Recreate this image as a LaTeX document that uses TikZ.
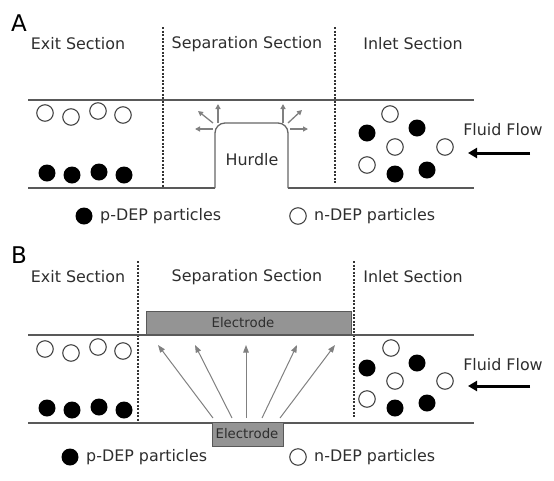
\documentclass[tikz,border=0pt]{standalone}
\usepackage{fontspec}
\setmainfont{DejaVu Sans}
\usetikzlibrary{arrows.meta}
\tikzset{
  lbl/.style={font=\fontsize{15.9}{18}\selectfont, inner sep=0pt, text=black!82},
  panel/.style={font=\fontsize{23}{26}\selectfont, inner sep=0pt},
  elbl/.style={font=\fontsize{13.3}{15}\selectfont, inner sep=0pt, text=black!82},
  wall/.style={draw=black!65, line width=1.2pt},
  hurdlewall/.style={draw=black!60, line width=1.3pt, rounded corners=10pt},
  sepline/.style={draw=black!80, line width=1.2pt, dash pattern=on 2pt off 1.5pt},
  pout/.style={circle, draw=black!72, line width=1.1pt, minimum size=16.5pt, inner sep=0pt},
  pin/.style={circle, fill=black, minimum size=17pt, inner sep=0pt},
  smallarr/.style={draw=black!50, line width=1.3pt, -{Triangle[length=5pt,width=5pt]}},
  fieldarr/.style={draw=black!50, line width=1pt, -{Triangle[length=7.5pt,width=5.5pt]}},
  flowarr/.style={draw=black, line width=3pt, -{Triangle[length=9pt,width=10pt]}},
  electrode/.style={draw=black!65, fill=black!42, line width=1pt, inner sep=0pt},
}
\begin{document}
\begin{tikzpicture}[x=1pt,y=-1pt]
\useasboundingbox (0,0) rectangle (554,480);

%% ===================== Panel A =====================
\node[panel] (labA) at (19,23) {A};
\node[lbl] (exitA) at (78,44) {Exit Section};
\node[lbl] (sepA) at (247,44) {Separation Section};
\node[lbl] (inA) at (413,44) {Inlet Section};

\coordinate (dA1t) at (163,27); \coordinate (dA1b) at (163,187);
\coordinate (dA2t) at (335,27); \coordinate (dA2b) at (335,184);
\draw[sepline] (dA1t) -- (dA1b);
\draw[sepline] (dA2t) -- (dA2b);

\coordinate (tA1) at (28,100); \coordinate (tA2) at (474,100);
\draw[wall] (tA1) -- (tA2);
\coordinate (bA1) at (28,188); \coordinate (hA1) at (215,188);
\coordinate (hA2) at (288,188); \coordinate (bA2) at (474,188);
\draw[wall] (bA1) -- (hA1);
\draw[wall] (hA2) -- (bA2);
\draw[hurdlewall] (hA1) -- (215,123) -- (288,123) -- (hA2);
\node[lbl] (hurdle) at (252,160) {Hurdle};

% small field arrows at hurdle corners
\coordinate (hl1) at (213,129); \coordinate (hl1e) at (195,129);
\coordinate (hl2) at (213,123); \coordinate (hl2e) at (198,111);
\coordinate (hl3) at (218,123); \coordinate (hl3e) at (218,104);
\coordinate (hr1) at (290,129); \coordinate (hr1e) at (308,129);
\coordinate (hr2) at (288,123); \coordinate (hr2e) at (302,110);
\coordinate (hr3) at (283,123); \coordinate (hr3e) at (283,104);
\foreach \a in {hl1,hl2,hl3,hr1,hr2,hr3} \draw[smallarr] (\a) -- (\a e);

% exit section particles A
\node[pout] (aeo1) at (45,113) {};
\node[pout] (aeo2) at (71,117) {};
\node[pout] (aeo3) at (98,111) {};
\node[pout] (aeo4) at (123,115) {};
\node[pin] (aef1) at (47,173) {};
\node[pin] (aef2) at (72,175) {};
\node[pin] (aef3) at (99,172) {};
\node[pin] (aef4) at (124,175) {};

% inlet particles A
\node[pout] (aio1) at (390,114) {};
\node[pin]  (aif1) at (367,133) {};
\node[pin]  (aif2) at (417,128) {};
\node[pout] (aio2) at (395,147) {};
\node[pout] (aio3) at (445,147) {};
\node[pout] (aio4) at (367,165) {};
\node[pin]  (aif3) at (395,174) {};
\node[pin]  (aif4) at (427,170) {};

\node[lbl] (flowA) at (503,130) {Fluid Flow};
\coordinate (fA1) at (530,153); \coordinate (fA2) at (468,153);
\draw[flowarr] (fA1) -- (fA2);

% legend A
\node[pin] (legAf) at (84,216) {};
\node[lbl, anchor=west] (legAft) at (100,216) {p-DEP particles};
\node[pout] (legAo) at (298,216) {};
\node[lbl, anchor=west] (legAot) at (314,216) {n-DEP particles};

%% ===================== Panel B =====================
\node[panel] (labB) at (19,255) {B};
\node[lbl] (exitB) at (78,277) {Exit Section};
\node[lbl] (sepB) at (247,277) {Separation Section};
\node[lbl] (inB) at (413,277) {Inlet Section};

\coordinate (dB1t) at (138,261); \coordinate (dB1b) at (138,422);
\coordinate (dB2t) at (354,261); \coordinate (dB2b) at (354,418);
\draw[sepline] (dB1t) -- (dB1b);
\draw[sepline] (dB2t) -- (dB2b);

\coordinate (tB1) at (28,335); \coordinate (tB2) at (474,335);
\draw[wall] (tB1) -- (tB2);
\coordinate (bB1) at (28,423); \coordinate (bB2) at (474,423);
\draw[wall] (bB1) -- (bB2);

\node[electrode, minimum width=205pt, minimum height=23pt] (elTop) at (248.5,322.5) {};
\node[elbl] (elTopT) at (243,323) {Electrode};
\node[electrode, minimum width=71pt, minimum height=24pt] (elBot) at (247.5,434) {};
\node[elbl] (elBotT) at (247,434) {Electrode};

% field arrows B
\coordinate (s1) at (213,418); \coordinate (e1) at (158,345);
\coordinate (s2) at (232,418); \coordinate (e2) at (195,345);
\coordinate (s3) at (246,418); \coordinate (e3) at (246,345);
\coordinate (s4) at (262,418); \coordinate (e4) at (297,345);
\coordinate (s5) at (280,418); \coordinate (e5) at (335,345);
\foreach \i in {1,...,5} \draw[fieldarr] (s\i) -- (e\i);

% exit particles B
\node[pout] (beo1) at (45,349) {};
\node[pout] (beo2) at (71,353) {};
\node[pout] (beo3) at (98,347) {};
\node[pout] (beo4) at (123,351) {};
\node[pin] (bef1) at (47,408) {};
\node[pin] (bef2) at (72,410) {};
\node[pin] (bef3) at (99,407) {};
\node[pin] (bef4) at (124,410) {};

% inlet particles B
\node[pout] (bio1) at (391,348) {};
\node[pin]  (bif1) at (367,368) {};
\node[pin]  (bif2) at (417,363) {};
\node[pout] (bio2) at (395,381) {};
\node[pout] (bio3) at (445,381) {};
\node[pout] (bio4) at (367,399) {};
\node[pin]  (bif3) at (395,408) {};
\node[pin]  (bif4) at (427,403) {};

\node[lbl] (flowB) at (503,365) {Fluid Flow};
\coordinate (fB1) at (530,386); \coordinate (fB2) at (468,386);
\draw[flowarr] (fB1) -- (fB2);

% legend B
\node[pin] (legBf) at (70,457) {};
\node[lbl, anchor=west] (legBft) at (86,457) {p-DEP particles};
\node[pout] (legBo) at (298,457) {};
\node[lbl, anchor=west] (legBot) at (314,457) {n-DEP particles};
\end{tikzpicture}
\end{document}
